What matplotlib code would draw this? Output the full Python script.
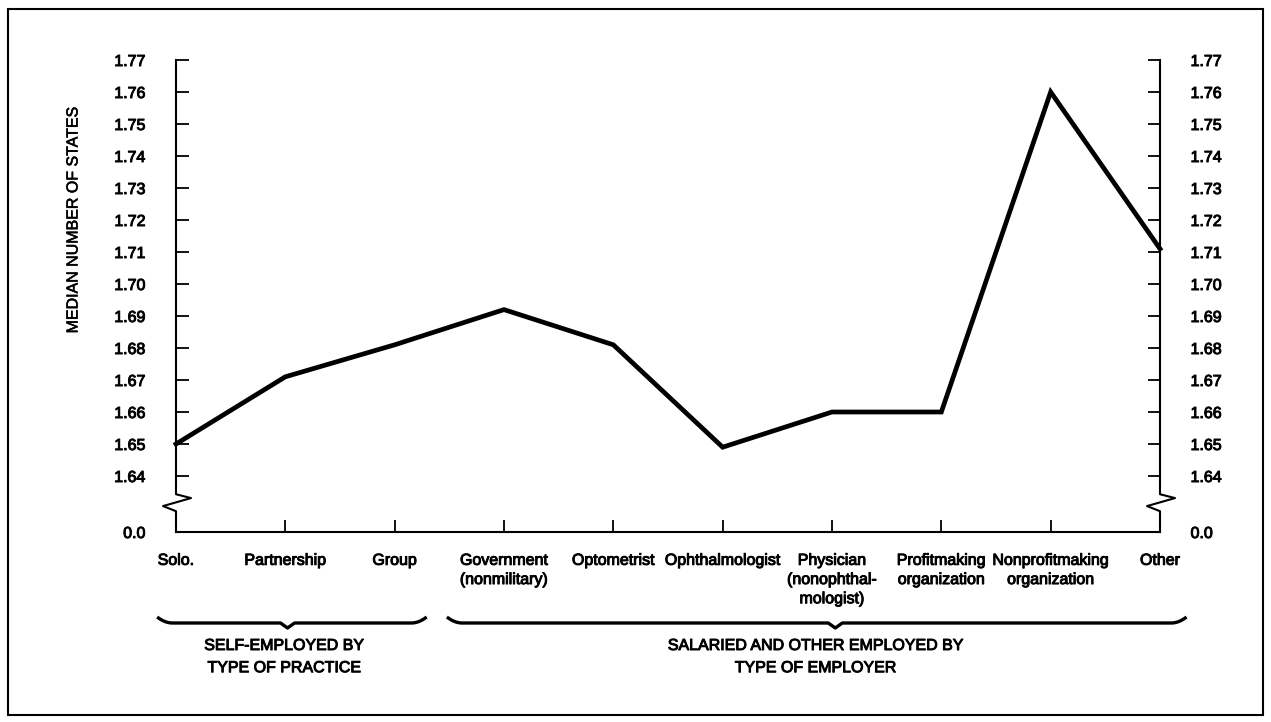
import matplotlib
matplotlib.use("Agg")
import matplotlib.pyplot as plt
import matplotlib.transforms as mtransforms
import matplotlib.patheffects as pe
import numpy as np

plt.rcParams['font.family'] = ['Liberation Sans', 'DejaVu Sans']

# data
categories = ['Solo.', 'Partnership', 'Group', 'Government\n(nonmilitary)', 'Optometrist',
              'Ophthalmologist', 'Physician\n(nonophthal-\nmologist)', 'Profitmaking\norganization',
              'Nonprofitmaking\norganization', 'Other']
values = [1.65, 1.671, 1.681, 1.692, 1.681, 1.649, 1.66, 1.66, 1.76, 1.711]
yticks = [1.64, 1.65, 1.66, 1.67, 1.68, 1.69, 1.70, 1.71, 1.72, 1.73, 1.74, 1.75, 1.76, 1.77]
zero_pos = 1.6225   # where "0.0" sits below the break
group_labels = ['SELF-EMPLOYED BY\nTYPE OF PRACTICE', 'SALARIED AND OTHER EMPLOYED BY\nTYPE OF EMPLOYER']
# brace start, end, tip, label centre (in category units)
group_spans = [(-0.16, 2.28, 1.02, 0.99), (2.49, 9.23, 6.03, 5.85)]

ink = [pe.withStroke(linewidth=0.7, foreground='black')]

fig = plt.figure(figsize=(12.71, 7.22), dpi=100)
ax = fig.add_axes([176/1271, 1-532/722, 984/1271, 472/722])

x = np.arange(len(categories))
ax.plot(x, values, color='black', lw=3.4, solid_joinstyle='miter', clip_on=False, zorder=3)

ax.set_xlim(0, len(categories)-1)
ax.set_ylim(zero_pos, 1.77)

ax.set_xticks(x)
ax.set_xticklabels(categories, fontsize=11.5, linespacing=1.35, va='top')
ax.set_yticks([zero_pos] + yticks)
ax.set_yticklabels(['0.0'] + ['%.2f' % v for v in yticks], fontsize=11.5)
ax.tick_params(axis='y', direction='in', length=9, width=1.3, left=True, right=True,
               labelleft=True, labelright=True, pad=22)
ax.tick_params(axis='x', direction='in', length=9, width=1.3, pad=15)
for lab in ax.get_xticklabels() + ax.get_yticklabels() + ax.yaxis.get_ticklabels(which='major', minor=False):
    lab.set_path_effects(ink)
for t in ax.yaxis.get_major_ticks():
    t.label2.set_path_effects(ink)

for s in ['top', 'left', 'right']:
    ax.spines[s].set_visible(False)
ax.spines['bottom'].set_linewidth(1.5)

# vertical axes with the break zigzag (x in axes fraction, y in data)
trans = mtransforms.blended_transform_factory(ax.transAxes, ax.transData)
w = 984.0
for side in [0.0, 1.0]:
    xs = [side, side, side + 15/w, side - 13/w, side, side]
    ys = [1.77, 1.6343, 1.6331, 1.6306, 1.6290, zero_pos]
    ax.plot(xs, ys, color='black', lw=1.5, transform=trans, clip_on=False)

# group braces under the category labels
btrans = mtransforms.blended_transform_factory(ax.transData, ax.transAxes)
px = 1/109.3
py = 1/472.0
yb = -91*py
for (x0, x1, xm, xc), lab in zip(group_spans, group_labels):
    t = np.linspace(0, 1, 12)
    cx0 = x0 + 14*px*t
    cy0 = yb + 5*py*(1-t)**2
    cx1 = x1 - 14*px*t[::-1]
    cy1 = yb + 5*py*(1-t[::-1])**2
    bx = np.concatenate([cx0, [xm - 7*px, xm, xm + 7*px], cx1])
    by = np.concatenate([cy0, [yb, yb - 5*py, yb], cy1])
    ax.plot(bx, by, color='black', lw=2.4, transform=btrans, clip_on=False)
    ax.text(xc, yb - 15*py, lab, transform=btrans, ha='center', va='top',
            fontsize=11.5, linespacing=1.6, path_effects=ink)

fig.text(73/1271, 1-220/722, 'MEDIAN NUMBER OF STATES', rotation=90,
         ha='center', va='center', fontsize=11.5, path_effects=[pe.withStroke(linewidth=0.4, foreground='black')])

# border
fig.add_artist(plt.Rectangle((8/1271, 7/722), 1255/1271, 706/722, transform=fig.transFigure,
                             fill=False, lw=1.5, edgecolor='black'))

fig.savefig('out.png', dpi=100)
